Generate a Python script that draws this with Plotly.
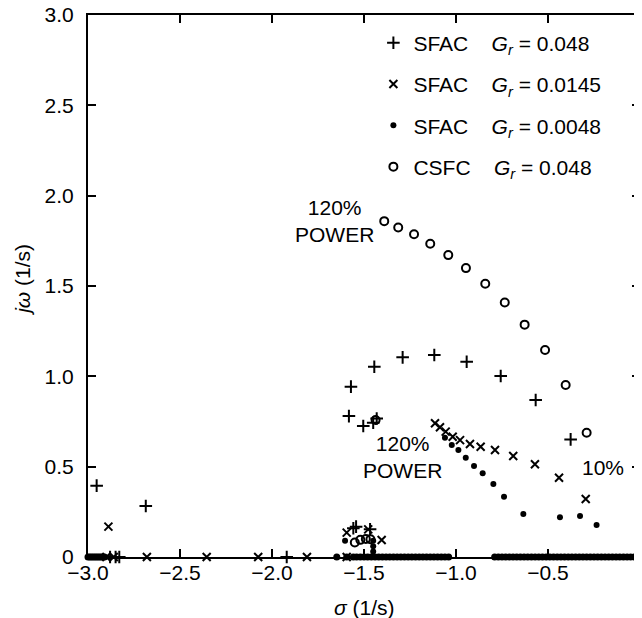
import plotly.graph_objects as go

# ---------------- data ----------------
# SFAC, G_r = 0.048  ("+")
sfac048_sigma = [-2.953, -2.686, -1.582, -1.571, -1.444, -1.290, -1.118, -0.942, -0.757, -0.567, -0.377,
                 -1.504, -1.450, -1.431, -1.558, -1.543, -1.467]
sfac048_omega = [0.395, 0.282, 0.780, 0.943, 1.053, 1.105, 1.118, 1.081, 1.002, 0.869, 0.651,
                 0.725, 0.743, 0.767, 0.159, 0.168, 0.153]
sfac048_real = [-2.88, -2.85, -2.83, -1.92]

# SFAC, G_r = 0.0145  ("x")
sfac0145_sigma = [-2.889, -1.114, -1.087, -1.056, -1.018, -0.978, -0.924, -0.866, -0.788, -0.689,
                  -0.571, -0.440, -0.295, -1.594, -1.477, -1.404]
sfac0145_omega = [0.168, 0.740, 0.718, 0.694, 0.666, 0.647, 0.625, 0.610, 0.592, 0.559,
                  0.513, 0.439, 0.321, 0.135, 0.153, 0.094]
sfac0145_real = [-2.90, -2.86, -2.68, -2.355, -2.075, -1.81, -1.594]

# SFAC, G_r = 0.0048  ("•")
sfac0048_sigma = [-1.060, -1.023, -0.987, -0.947, -0.902, -0.855, -0.797, -0.739, -0.634, -0.435,
                  -0.326, -0.236, -1.603, -1.45, -1.45, -1.45]
sfac0048_omega = [0.660, 0.620, 0.592, 0.550, 0.504, 0.463, 0.404, 0.334, 0.238, 0.220,
                  0.227, 0.177, 0.090, 0.03, 0.06, 0.09]
sfac0048_real = [-3.00, -2.99, -2.98, -2.97, -2.96, -2.95, -2.94, -2.93, -2.92, -2.91,
                 -1.648, -1.594, -1.558,
                 -1.54, -1.52, -1.50, -1.48, -1.46, -1.44, -1.42, -1.40, -1.38, -1.36,
                 -1.34, -1.32, -1.30, -1.28, -1.26, -1.24, -1.22, -1.20, -1.18, -1.16,
                 -1.14, -1.12, -1.10, -1.08, -1.06, -1.04,
                 -0.79, -0.77, -0.75, -0.73, -0.71, -0.69, -0.67, -0.65, -0.63, -0.61,
                 -0.59, -0.57, -0.55, -0.53, -0.51, -0.49, -0.47, -0.45, -0.43, -0.41,
                 -0.39, -0.37, -0.35, -0.33, -0.31, -0.29, -0.27, -0.25, -0.23, -0.21,
                 -0.19, -0.17, -0.15, -0.13, -0.11, -0.09, -0.07, -0.05, -0.03, -0.01]

# CSFC, G_r = 0.048  ("o")
csfc048_sigma = [-1.390, -1.314, -1.228, -1.140, -1.042, -0.946, -0.841, -0.735, -0.627, -0.516,
                 -0.404, -0.290, -1.437, -1.55, -1.52, -1.49, -1.465]
csfc048_omega = [1.859, 1.824, 1.786, 1.734, 1.671, 1.599, 1.512, 1.409, 1.286, 1.146,
                 0.952, 0.688, 0.758, 0.080, 0.095, 0.100, 0.098]

# tick labels
x_ticks = [-3.0, -2.5, -2.0, -1.5, -1.0, -0.5, 0.0]
x_tick_text = ["\u22123.0", "\u22122.5", "\u22122.0", "\u22121.5", "\u22121.0", "\u22120.5", "0"]
y_ticks = [0.0, 0.5, 1.0, 1.5, 2.0, 2.5, 3.0]
y_tick_text = ["0", "0.5", "1.0", "1.5", "2.0", "2.5", "3.0"]

FONT = "Liberation Sans, Arial, sans-serif"
FS = 21
SP = "&nbsp;" * 4

fig = go.Figure()

plus_m = dict(symbol="cross-thin", size=9, color="black", line=dict(width=2, color="black"))
x_m = dict(symbol="x-thin", size=8, color="black", line=dict(width=2, color="black"))
dot_m = dict(symbol="circle", size=6, color="black", line=dict(width=0))
o_m = dict(symbol="circle-open", size=8, color="black", line=dict(width=2, color="black"))

fig.add_trace(go.Scatter(x=sfac048_sigma, y=sfac048_omega, mode="markers", marker=plus_m,
                         name=f"SFAC{SP}<i>G<sub>r</sub></i> = 0.048", legendgroup="a", cliponaxis=False))
fig.add_trace(go.Scatter(x=sfac0145_sigma, y=sfac0145_omega, mode="markers", marker=x_m,
                         name=f"SFAC{SP}<i>G<sub>r</sub></i> = 0.0145", legendgroup="b", cliponaxis=False))
fig.add_trace(go.Scatter(x=sfac0048_sigma, y=sfac0048_omega, mode="markers", marker=dot_m,
                         name=f"SFAC{SP}<i>G<sub>r</sub></i> = 0.0048", legendgroup="c", cliponaxis=False))
fig.add_trace(go.Scatter(x=csfc048_sigma, y=csfc048_omega, mode="markers", marker=o_m,
                         name=f"CSFC{SP}<i>G<sub>r</sub></i> = 0.048", legendgroup="d", cliponaxis=False))

# real-axis roots
fig.add_trace(go.Scatter(x=sfac0048_real, y=[0] * len(sfac0048_real), mode="markers",
                         marker=dict(symbol="circle", size=7, color="black"), showlegend=False, cliponaxis=False))
fig.add_trace(go.Scatter(x=sfac048_real, y=[0] * len(sfac048_real), mode="markers",
                         marker=plus_m, showlegend=False, cliponaxis=False))
fig.add_trace(go.Scatter(x=sfac0145_real, y=[0] * len(sfac0145_real), mode="markers",
                         marker=x_m, showlegend=False, cliponaxis=False))

fig.add_annotation(x=-1.661, y=1.859, text="120%<br>POWER", showarrow=False,
                   font=dict(family=FONT, size=FS, color="black"))
fig.add_annotation(x=-1.291, y=0.553, text="120%<br>POWER", showarrow=False,
                   font=dict(family=FONT, size=FS, color="black"))
fig.add_annotation(x=-0.202, y=0.493, text="10%", showarrow=False,
                   font=dict(family=FONT, size=FS, color="black"))

# axis titles
fig.add_annotation(xref="paper", yref="paper", x=-0.12, y=0.511, text="<i>j\u03c9</i> (1/s)",
                   xanchor="center", yanchor="middle",
                   textangle=-90, showarrow=False, font=dict(family=FONT, size=FS, color="black"))
fig.add_annotation(xref="paper", yref="paper", x=0.5, y=-0.094, text="<i>\u03c3</i> (1/s)",
                   xanchor="center", yanchor="middle",
                   showarrow=False, font=dict(family=FONT, size=FS, color="black"))

axis_common = dict(showgrid=False, zeroline=False, showline=True, linecolor="black", linewidth=2,
                   mirror="ticks", ticks="inside", ticklen=8, tickwidth=2, tickcolor="black",
                   automargin=False, ticklabeloverflow="allow",
                   tickfont=dict(family=FONT, size=FS, color="black"))

fig.update_xaxes(range=[-3.0, 0.0], tickvals=x_ticks, ticktext=x_tick_text, ticklabelstandoff=-4,
                 **axis_common)
fig.update_yaxes(range=[0.0, 3.0], tickvals=y_ticks, ticktext=y_tick_text, ticklabelstandoff=8,
                 **axis_common)

fig.update_layout(
    width=634, height=610,
    margin=dict(l=80, r=2, t=7, b=61, autoexpand=False),
    paper_bgcolor="white", plot_bgcolor="white",
    font=dict(family=FONT, size=FS, color="black"),
    legend=dict(x=0.517, y=0.986, xanchor="left", yanchor="top", bgcolor="rgba(0,0,0,0)",
                font=dict(family=FONT, size=FS, color="black"), tracegroupgap=11,
                itemsizing="trace"),
)

fig.write_html("out.html")
